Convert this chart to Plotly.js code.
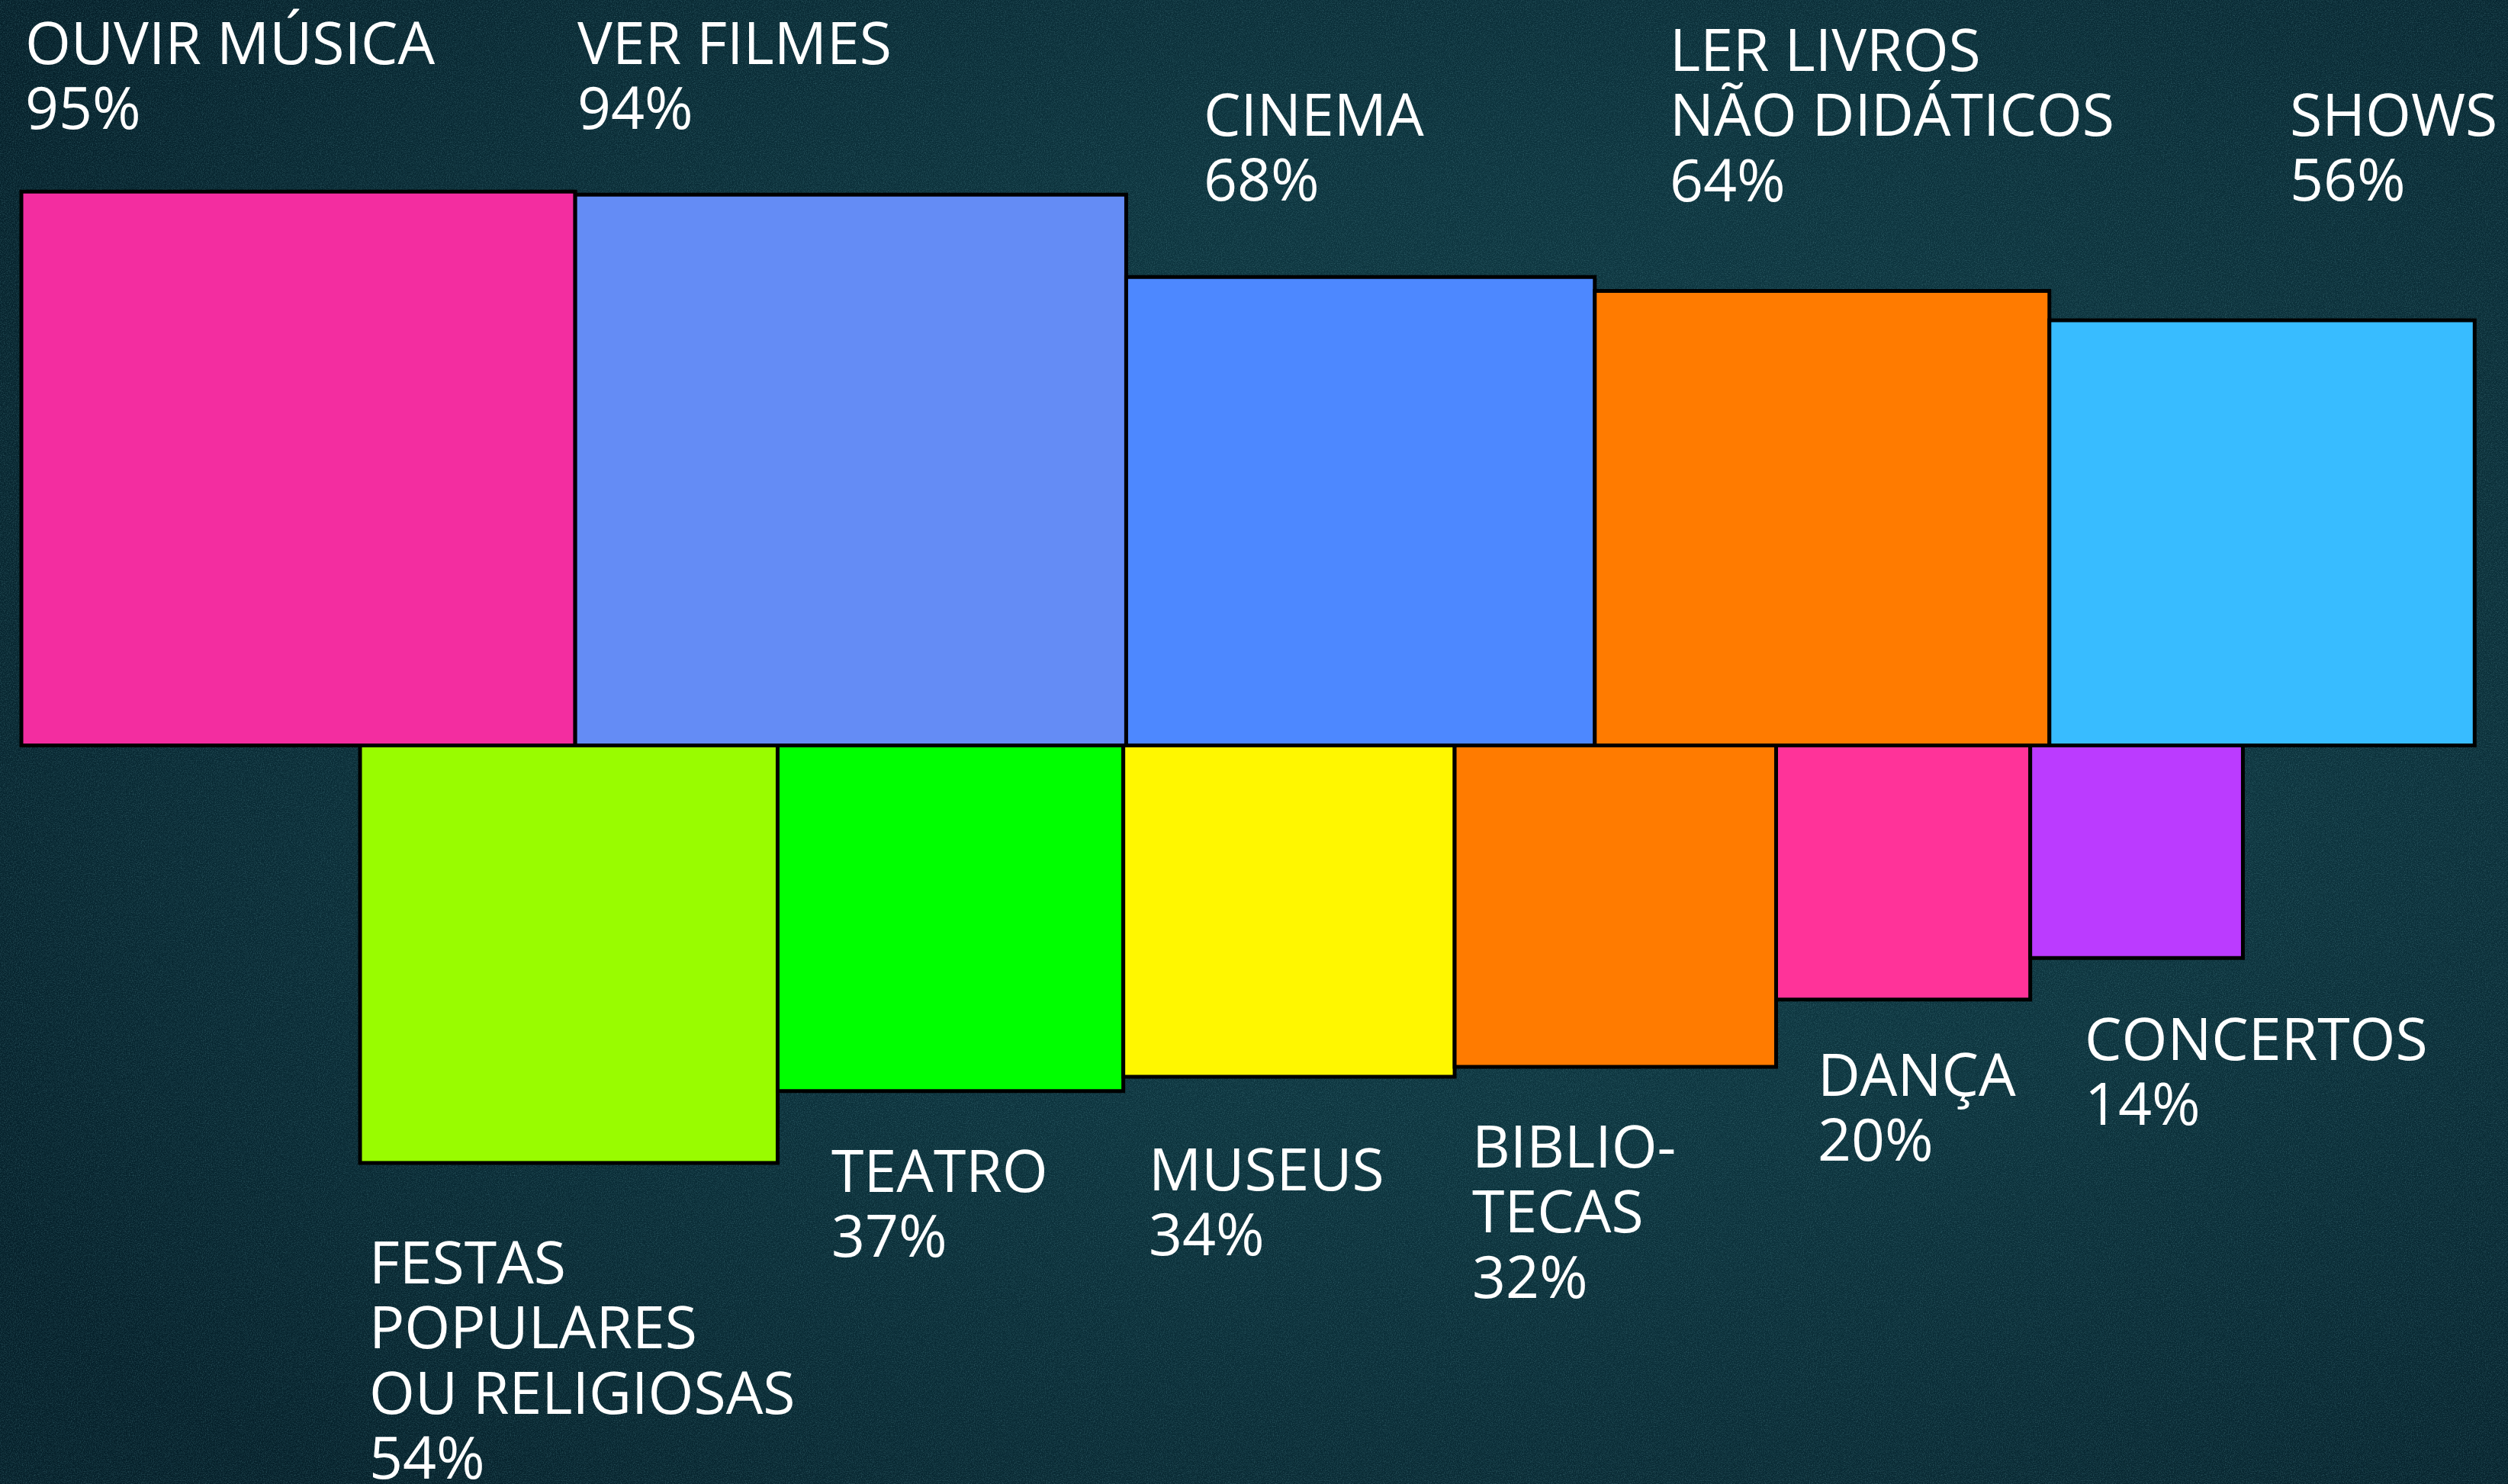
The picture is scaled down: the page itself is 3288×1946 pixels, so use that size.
<!DOCTYPE html>
<html>
<head>
<meta charset="utf-8">
<script src="https://cdn.plot.ly/plotly-3.0.1.min.js"></script>
<style>
html, body { margin:0; padding:0; width:3288px; height:1946px; overflow:hidden; }
body {
  background:
    url("data:image/svg+xml;utf8,<svg xmlns='http://www.w3.org/2000/svg' width='500' height='500'><filter id='n'><feTurbulence type='fractalNoise' baseFrequency='0.75' numOctaves='2' stitchTiles='stitch'/><feColorMatrix values='0 0 0 0 0.15  0 0 0 0 0.4  0 0 0 0 0.45  0 0 0 0.6 -0.24'/></filter><rect width='100%' height='100%' filter='url(%23n)'/></svg>"),
    radial-gradient(ellipse 70% 75% at 60% 45%, #0f3b45 0%, #0c333d 45%, #082832 80%, #05202a 100%);
}
#chart { width:3288px; height:1946px; }
</style>
</head>
<body>
<div id="chart"></div>
<script>
// ---- data ----
const topNames = ['OUVIR MÚSICA', 'VER FILMES', 'CINEMA', 'LER LIVROS\nNÃO DIDÁTICOS', 'SHOWS'];
const topValues = [95, 94, 68, 64, 56];
const topColors = ['#F32DA0', '#648CF5', '#4D88FF', '#FF7B00', '#38BCFF'];

const bottomNames = ['FESTAS\nPOPULARES\nOU RELIGIOSAS', 'TEATRO', 'MUSEUS', 'BIBLIO-\nTECAS', 'DANÇA', 'CONCERTOS'];
const bottomValues = [54, 37, 34, 32, 20, 14];
const bottomColors = ['#99FC00', '#00FF00', '#FFF700', '#FF7B00', '#FF3399', '#BB3BFF'];

// ---- layout constants ----
const W = 3288, H = 1946;
const PX = 74.5;          // pixels per unit of sqrt(percent)
const X0_PX = 28;         // left edge of first square
const BASE_PX = 977.5;    // shared baseline between the rows
const BOTTOM_OFFSET = 5.96; // bottom row start, in units
const FONT_PX = 77, LINE_PX = 85.5;
// label placement: [text x px, first baseline px]
const topLabelPos = [[32, 84], [756, 84], [1577, 178], [2188, 93], [3001, 178]];
const bottomLabelPos = [[483, 1683], [1089, 1563], [1505, 1561], [1929, 1531], [2382, 1437], [2732, 1390]];

function squares(values, start) {
  const sides = values.map(v => Math.sqrt(v));
  const centers = [];
  let left = start;
  sides.forEach(s => { centers.push(left + s / 2); left += s; });
  return { sides, centers };
}
const topSq = squares(topValues, 0);
const botSq = squares(bottomValues, BOTTOM_OFFSET);

const lineStyle = { color: '#000000', width: 5 };
const traces = [
  {
    type: 'bar', x: topSq.centers, y: topSq.sides, width: topSq.sides, base: 0,
    marker: { color: topColors, line: lineStyle }, hoverinfo: 'skip', showlegend: false
  },
  {
    type: 'bar', x: botSq.centers, y: botSq.sides.map(s => -s), width: botSq.sides, base: 0,
    marker: { color: bottomColors, line: lineStyle }, hoverinfo: 'skip', showlegend: false
  }
];

const toX = px => (px - X0_PX) / PX;
const toY = py => (BASE_PX - py) / PX;

const annotations = [];
function addLabels(names, values, positions) {
  names.forEach((name, i) => {
    const lines = name.split('\n').concat([values[i] + '%']);
    const [xp, yp] = positions[i];
    lines.forEach((ln, j) => {
      const baseline = yp + j * LINE_PX;
      annotations.push({
        x: toX(xp), y: toY(baseline - 0.388 * FONT_PX), xref: 'x', yref: 'y',
        text: ln, showarrow: false, xanchor: 'left', yanchor: 'middle',
        borderpad: 0, font: { family: 'Open Sans', size: FONT_PX, color: '#FFFFFF' }
      });
    });
  });
}
addLabels(topNames, topValues, topLabelPos);
addLabels(bottomNames, bottomValues, bottomLabelPos);

const hiddenAxis = { showgrid: false, zeroline: false, showticklabels: false, showline: false, ticks: '', fixedrange: true };
const layout = {
  width: W, height: H,
  margin: { l: 0, r: 0, t: 0, b: 0, pad: 0 },
  paper_bgcolor: 'rgba(0,0,0,0)', plot_bgcolor: 'rgba(0,0,0,0)',
  barmode: 'overlay',
  xaxis: Object.assign({ range: [toX(0), toX(W)], domain: [0, 1] }, hiddenAxis),
  yaxis: Object.assign({ range: [toY(H), toY(0)], domain: [0, 1] }, hiddenAxis),
  annotations: annotations,
  showlegend: false
};

Plotly.newPlot('chart', traces, layout, { staticPlot: true, displayModeBar: false });
</script>
</body>
</html>
